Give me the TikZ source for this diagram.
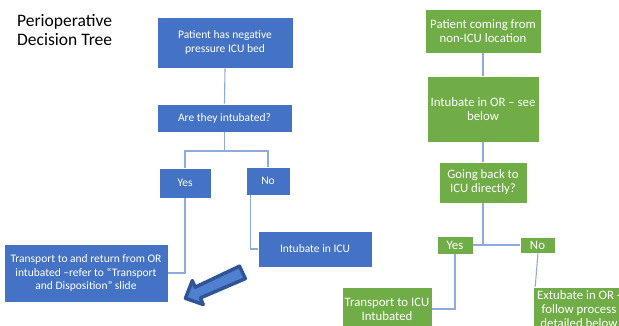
\documentclass[tikz,border=0pt]{standalone}
\usepackage{fontspec}
\setmainfont{Carlito}
\usetikzlibrary{calc}
\definecolor{boxblue}{HTML}{4472C4}
\definecolor{boxgreen}{HTML}{70AD47}
\definecolor{linkblue}{HTML}{8FAADC}
\definecolor{arrowdark}{HTML}{2F5597}
\definecolor{arrowlight}{HTML}{4F81D0}
\tikzset{
  bluebox/.style={rectangle, fill=boxblue, draw=white, line width=0.6pt, text=white,
    align=center, inner sep=0pt, font=\fontsize{11.5}{13.3}\selectfont},
  greenbox/.style={rectangle, fill=boxgreen, draw=white, line width=0.6pt, text=white,
    align=center, inner sep=0pt, font=\fontsize{12.8}{14}\selectfont},
  link/.style={draw=linkblue, line width=1.1pt},
  titletext/.style={align=left, inner sep=0pt, font=\fontsize{17.5}{19.3}\selectfont, text=black}
}
\begin{document}
\begin{tikzpicture}[x=1pt,y=-1pt]
\useasboundingbox (0,0) rectangle (619,326);
\fill[white] (0,0) rectangle (619,326);
\clip (0,0) rectangle (619,326);

\node[titletext, anchor=north west] (title) at (17,14) {Perioperative\\Decision Tree};

% blue tree
\node[bluebox, minimum width=136pt, minimum height=51pt] (b1) at (225,42.5) {Patient has negative\\pressure ICU bed};
\node[bluebox, minimum width=135pt, minimum height=28pt] (b2) at (224.5,118) {Are they intubated?};
\node[bluebox, minimum width=52pt, minimum height=30pt] (yes) at (185,183) {Yes};
\node[bluebox, minimum width=44pt, minimum height=28pt] (no) at (268,181) {No};
\node[bluebox, minimum width=164pt, minimum height=58pt] (trans) at (86,273) {Transport to and return from OR\\intubated –refer to “Transport\\and Disposition” slide};
\node[bluebox, minimum width=114pt, minimum height=36pt] (icu) at (315,249) {Intubate in ICU};

\coordinate (j1) at (224.5,151);
\draw[link] (b1.south) -- (b2.north);
\draw[link] (b2.south) -- (j1);
\draw[link] (yes.north) |- (j1) -| (no.north);
\draw[link] (yes.south) |- (trans.east);
\draw[link] ($(no.south west)+(5,0)$) |- (icu.west);

% big arrow
\filldraw[draw=arrowdark, fill=arrowlight, line width=3.5pt, line join=round]
  (239.5,266.2) -- (245.3,278.6) -- (200.4,297.9) -- (203.2,304.5)
  -- (185.5,298.3) -- (192.3,280.6) -- (195.2,287.2) -- cycle;

% green tree
\node[greenbox, minimum width=116pt, minimum height=44pt] (g1) at (483,31) {Patient coming from\\non-ICU location};
\node[greenbox, minimum width=112pt, minimum height=66pt] (g2) at (483,109) {Intubate in OR – see\\below};
\node[greenbox, minimum width=88pt, minimum height=41pt] (g3) at (483,182.5) {Going back to\\ICU directly?};
\node[greenbox, minimum width=36pt, minimum height=18pt] (gy) at (455,245) {Yes};
\node[greenbox, minimum width=35pt, minimum height=16pt] (gn) at (537.5,245) {No};
\node[greenbox, minimum width=90pt, minimum height=44pt] (gt) at (387,309) {Transport to ICU\\Intubated};
\node[greenbox, minimum width=92pt, minimum height=44pt] (ge) at (579,309) {Extubate in OR -\\follow process\\detailed below};

\coordinate (j2) at (483,245);
\draw[link] (g1.south) -- (g2.north);
\draw[link] (g2.south) -- (g3.north);
\draw[link] (g3.south) -- (j2);
\draw[link] (gy.east) -- (gn.west);
\draw[link] (gy.south) |- (gt.east);
\draw[link] ($(gn.south)+(0.5,0)$) -- ($(ge.north west)+(2.5,0)$);
\end{tikzpicture}
\end{document}
